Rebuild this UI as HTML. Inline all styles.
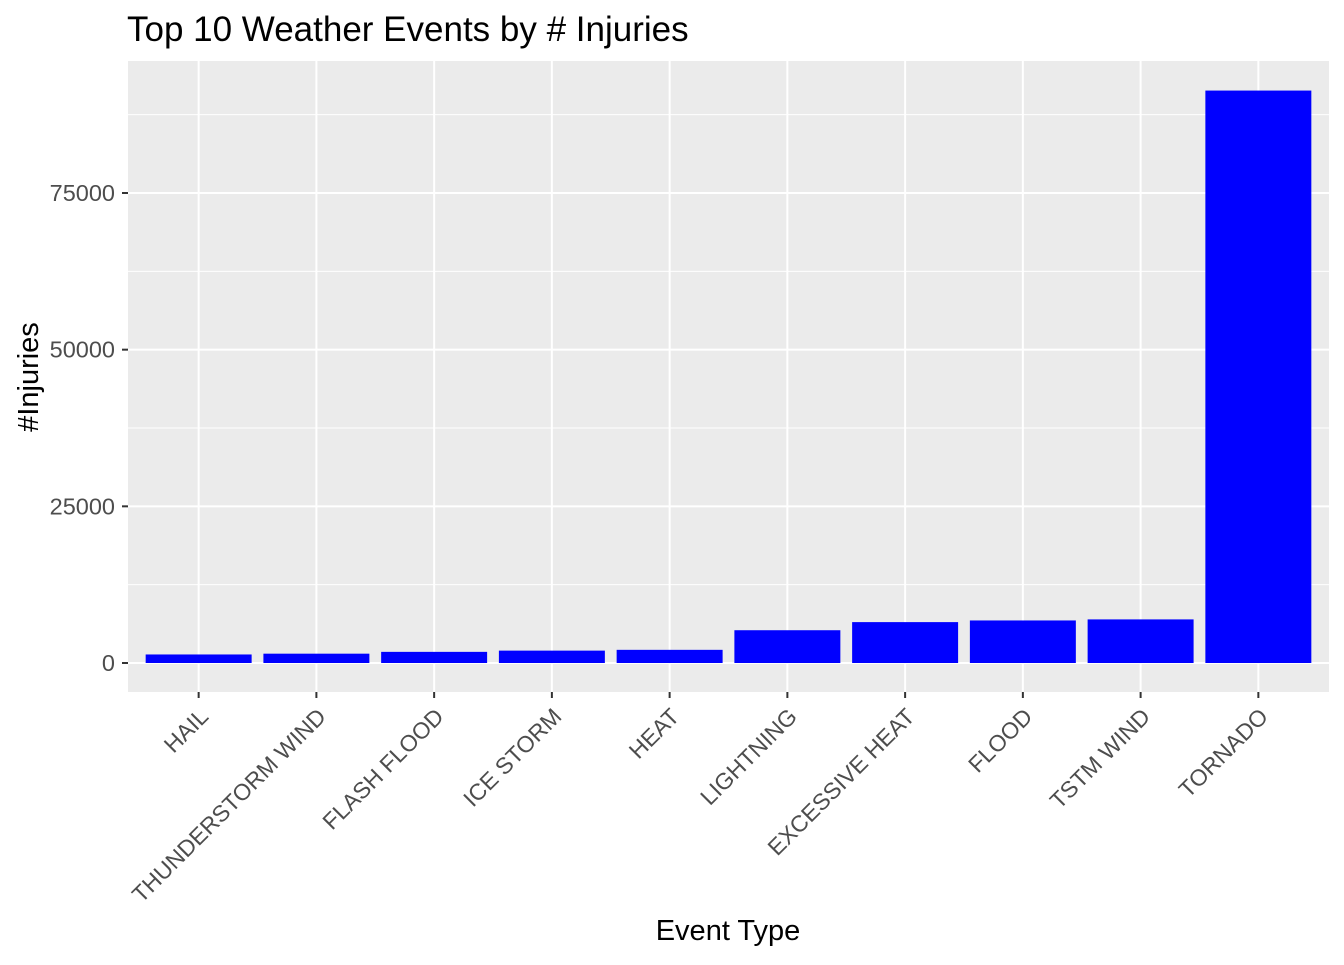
<!DOCTYPE html>
<html><head><meta charset="utf-8"><style>
body{margin:0;background:#fff;font-family:"Liberation Sans",Arial,sans-serif}
</style></head><body>
<svg id="chart" width="1344" height="960" xmlns="http://www.w3.org/2000/svg" font-family="Liberation Sans, Arial, sans-serif">
<rect x="128" y="61" width="1201" height="631" fill="#ebebeb"/>
<g id="grid"></g><g id="bars"></g><g id="axes"></g>
<text x="127" y="41" font-size="35" fill="#000">Top 10 Weather Events by # Injuries</text>
<text x="728" y="940" font-size="29" text-anchor="middle" fill="#000">Event Type</text>
<text transform="translate(38,377) rotate(-90)" font-size="29" text-anchor="middle" fill="#000">#Injuries</text>
</svg>
<script>
const categories=["HAIL","THUNDERSTORM WIND","FLASH FLOOD","ICE STORM","HEAT","LIGHTNING","EXCESSIVE HEAT","FLOOD","TSTM WIND","TORNADO"];
const values=[1361,1488,1777,1975,2100,5230,6525,6789,6957,91346];
const yTicks=[0,25000,50000,75000];
const yTickLabels=["0","25000","50000","75000"];
const NS="http://www.w3.org/2000/svg";
const px0=128,px1=1329,py0=61,py1=692;
const yZero=663,yPer=470/75000;
function y(v){return yZero-v*yPer;}
const step=(px1-px0)/(categories.length-1+1.2);
function x(i){return px0+step*(0.6+i);}
function el(t,a,p){const e=document.createElementNS(NS,t);for(const k in a)e.setAttribute(k,a[k]);p.appendChild(e);return e;}
const grid=document.getElementById('grid'),bars=document.getElementById('bars'),axes=document.getElementById('axes');
for(let i=0;i<yTicks.length;i++){
  const yy=y(yTicks[i]);
  const g=el('line',{x1:px0,x2:px1,y1:yy,y2:yy,stroke:'#fff','stroke-width':2},grid);
  
  
  if(i<yTicks.length-1){const m=y((yTicks[i]+yTicks[i+1])/2);
    const gm=el('line',{x1:px0,x2:px1,y1:m,y2:m,stroke:'#fff','stroke-width':1},grid);
    
    }
  const tk=el('line',{x1:122,x2:128,y1:yy,y2:yy,stroke:'#333','stroke-width':2},axes);
  
  
  const t=el('text',{x:115,y:yy+8,'font-size':23.5,'text-anchor':'end',fill:'#4d4d4d'},axes);
  t.textContent=yTickLabels[i];
  
  
}
{const m=y(87500);const gm=el('line',{x1:px0,x2:px1,y1:m,y2:m,stroke:'#fff','stroke-width':1},grid);

}
categories.forEach((c,i)=>{
  const cx=x(i);
  const g=el('line',{x1:cx,x2:cx,y1:py0,y2:py1,stroke:'#fff','stroke-width':2},grid);
  
  
  const w=step*0.9;
  const b=el('rect',{x:cx-w/2,y:y(values[i]),width:w,height:yZero-y(values[i]),fill:'#0000ff'},bars);
  
  
  const tk=el('line',{x1:cx,x2:cx,y1:692,y2:698,stroke:'#333','stroke-width':2},axes);
  
  
  const t=el('text',{transform:`translate(${cx+11},${718}) rotate(-45)`,'font-size':23,'text-anchor':'end',fill:'#4d4d4d'},axes);
  t.textContent=c;
  
  
});
</script>
</body></html>
